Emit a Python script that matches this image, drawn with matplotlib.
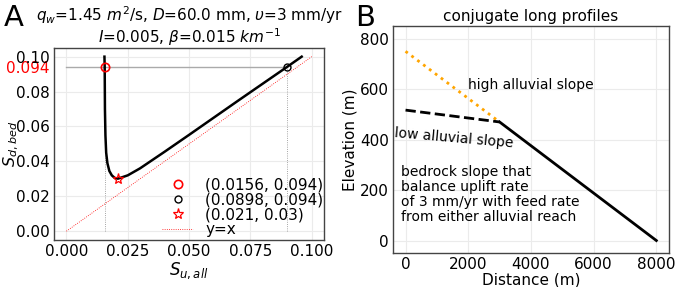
import numpy as np
import matplotlib
matplotlib.use("Agg")
import matplotlib.pyplot as plt

# panel A: bedrock slope vs alluvial slope
s_up = [0.0155, 0.0156, 0.0157, 0.0159, 0.0162, 0.0167, 0.0175, 0.0185, 0.0197, 0.021,
        0.025, 0.030, 0.040, 0.050, 0.060, 0.070, 0.080, 0.0898, 0.0959]
s_down = [0.100, 0.094, 0.070, 0.055, 0.045, 0.039, 0.0345, 0.032, 0.0305, 0.0301,
          0.0320, 0.0360, 0.0455, 0.0552, 0.0650, 0.0748, 0.0845, 0.094, 0.100]
pt_low = (0.0156, 0.094)
pt_high = (0.0898, 0.094)
pt_min = (0.021, 0.03)
yx = [0, 0.1]

# panel B: long profiles
dist_bed = [3000, 8000]
elev_bed = [470, 0]
dist_alluv = [0, 3000]
elev_low = [517, 470]
elev_high = [750, 470]

fig = plt.figure(figsize=(6.77, 2.87), dpi=100)
axA = fig.add_axes([0.080, 0.164, 0.3986, 0.669])
axB = fig.add_axes([0.5805, 0.118, 0.4075, 0.791])

grid_kw = dict(color="#ebebeb", lw=0.8)
for ax in (axA, axB):
    ax.grid(True, **grid_kw)
    ax.set_axisbelow(True)
    ax.tick_params(length=0, labelsize=11, pad=3)
    for s in ax.spines.values():
        s.set_color("#444444")
        s.set_linewidth(1.0)

# --- A
axA.plot([0, pt_high[0]], [pt_low[1], pt_high[1]], color="#aaaaaa", lw=1.0)
axA.plot([pt_low[0], pt_low[0]], [0, pt_low[1]], color="#888888", lw=0.6, ls=":")
axA.plot([pt_high[0], pt_high[0]], [0, pt_high[1]], color="#888888", lw=0.6, ls=":")
axA.plot(s_up, s_down, color="black", lw=1.8)
axA.plot(*pt_low, "o", mfc="none", mec="red", ms=6, mew=1.2, ls="none",
         label="(0.0156, 0.094)")
axA.plot(*pt_high, "o", mfc="none", mec="black", ms=5, mew=1.0, ls="none",
         label="(0.0898, 0.094)")
axA.plot(*pt_min, "*", mfc="none", mec="red", ms=8, mew=0.9, ls="none",
         label="(0.021, 0.03)")
axA.plot(yx, yx, color="red", lw=0.6, ls=":", label="y=x")
axA.set_xlim(-0.005, 0.105)
axA.set_ylim(-0.005, 0.105)
axA.set_xticks([0, 0.025, 0.05, 0.075, 0.1])
axA.set_xticklabels(["0.000", "0.025", "0.050", "0.075", "0.100"])
axA.set_yticks([0, 0.02, 0.04, 0.06, 0.08, 0.094, 0.1])
axA.set_yticklabels(["0.00", "0.02", "0.04", "0.06", "0.08", "0.094", "0.10"])
axA.get_yticklabels()[5].set_color("red")
axA.get_ygridlines()[5].set_visible(False)
axA.set_xlabel("$S_{u,all}$", fontsize=12, labelpad=1)
axA.set_ylabel("$S_{d,bed}$", fontsize=11.5)
axA.yaxis.set_label_coords(-0.122, 0.5)
axA.set_title("$q_w$=1.45 $m^2$/s, $D$=60.0 mm, $\\upsilon$=3 mm/yr\n"
              "$I$=0.005, $\\beta$=0.015 $km^{-1}$", fontsize=11, pad=3, linespacing=1.0)
axA.legend(loc="lower right", frameon=False, fontsize=11, labelspacing=0.0,
           handlelength=2.0, handletextpad=0.8, borderaxespad=0.1,
           bbox_to_anchor=(1.026, -0.026))

# --- B
axB.plot(dist_alluv, elev_high, color="orange", lw=2.0, ls=":")
axB.plot(dist_alluv, elev_low, color="black", lw=2.0, ls="--")
axB.plot(dist_bed, elev_bed, color="black", lw=2.0)
axB.set_xlim(-400, 8400)
axB.set_ylim(-50, 850)
axB.set_xticks([0, 2000, 4000, 6000, 8000])
axB.set_yticks([0, 200, 400, 600, 800])
axB.set_xlabel("Distance (m)", fontsize=11, labelpad=0)
axB.set_ylabel("Elevation (m)", fontsize=11, labelpad=2)
axB.set_title("conjugate long profiles", fontsize=11, pad=4)
axB.text(2000, 617, "high alluvial slope", fontsize=10, va="center")
axB.text(-380, 405, "low alluvial slope", fontsize=10, va="center", rotation=-5)
axB.text(-160, 300, "bedrock slope that\nbalance uplift rate\nof 3 mm/yr with feed rate\n"
         "from either alluvial reach", fontsize=10, va="top", linespacing=1.1)

fig.text(0.006, 0.91, "A", fontsize=21)
fig.text(0.525, 0.91, "B", fontsize=21)

fig.savefig("out.png", dpi=100)
